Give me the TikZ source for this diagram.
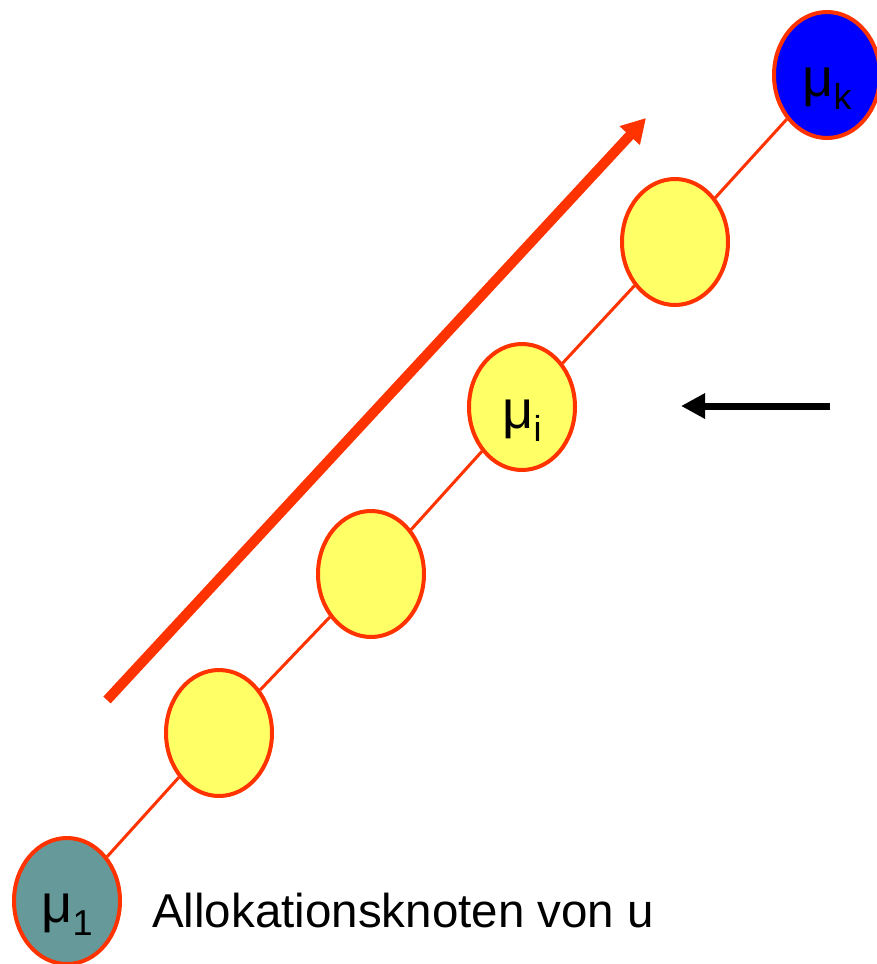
\documentclass[tikz,border=0pt]{standalone}
\usepackage{fontspec}
\setmainfont{Liberation Sans}
\usetikzlibrary{shapes.geometric,arrows.meta}
\definecolor{edgered}{HTML}{FF3300}
\definecolor{nodeyellow}{HTML}{FFFF66}
\definecolor{nodeteal}{HTML}{669999}
\definecolor{nodeblue}{HTML}{0000FF}
\newcommand\mulab[1]{\smash{\raisebox{-21pt}{μ\raisebox{-13pt}{\fontsize{36}{36}\selectfont #1}}}}
\begin{document}
\begin{tikzpicture}[x=1pt,y=-1pt,
  knot/.style={ellipse, draw=edgered, line width=4pt, minimum width=106pt, minimum height=126pt, inner sep=0pt, font=\fontsize{54}{54}\selectfont},
  link/.style={draw=edgered, line width=3pt},
  bigarrow/.style={draw=edgered, line width=10pt, -{Triangle[length=24pt,width=26pt]}},
  blackarrow/.style={draw=black, line width=7pt, -{Triangle[length=24pt,width=24pt]}}]
\useasboundingbox (0,0) rectangle (876,964);
\node[knot, fill=nodeteal] (m1) at (67,901) {\mulab{1}};
\node[knot, fill=nodeyellow] (y4) at (219,733) {};
\node[knot, fill=nodeyellow] (y3) at (371,574) {};
\node[knot, fill=nodeyellow] (mi) at (522,407) {\mulab{i}};
\node[knot, fill=nodeyellow] (y1) at (675,242) {};
\node[knot, fill=nodeblue] (mk) at (827,75) {\mulab{k}};
\draw[link] (m1) -- (y4);
\draw[link] (y4) -- (y3);
\draw[link] (y3) -- (mi);
\draw[link] (mi) -- (y1);
\draw[link] (y1) -- (mk);
\coordinate (rt) at (107,700);
\coordinate (rh) at (646,118);
\draw[bigarrow] (rt) -- (rh);
\coordinate (bt) at (830,406);
\coordinate (bh) at (681,406);
\draw[blackarrow] (bt) -- (bh);
\node[anchor=base west, inner sep=0pt, font=\fontsize{47.5}{48}\selectfont] (cap) at (152,927) {Allokationsknoten von u};
\end{tikzpicture}
\end{document}
